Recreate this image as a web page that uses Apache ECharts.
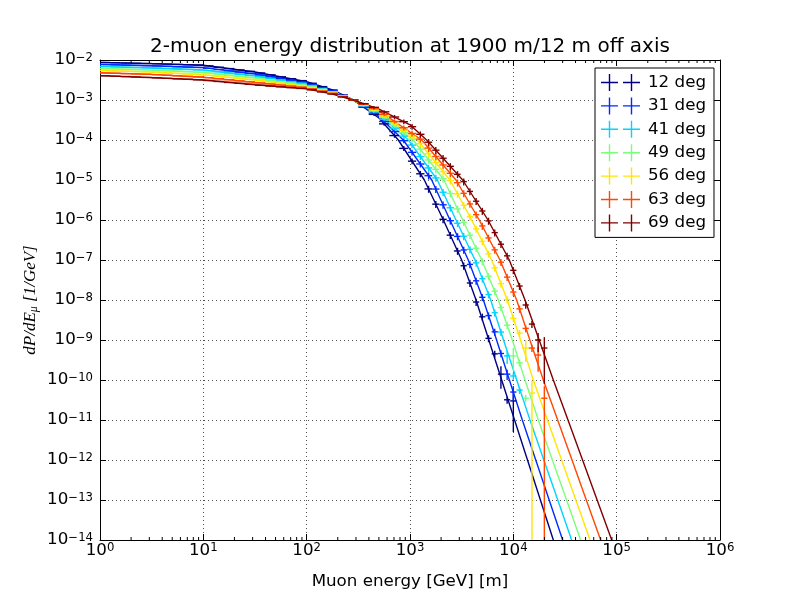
<!DOCTYPE html>
<html><head><meta charset="utf-8">
<script src="https://cdn.jsdelivr.net/npm/echarts@6/dist/echarts.min.js"></script>
<style>html,body{margin:0;padding:0;background:#fff}#c{width:800px;height:600px}</style>
</head><body><div id="c"></div>
<script>
// ---------- data ----------
const seriesNames = ['12 deg', '31 deg', '41 deg', '49 deg', '56 deg', '63 deg', '69 deg'];
const seriesColors = ['#000080', '#002bff', '#00d4ff', '#7bff7b', '#ffe600', '#ff4800', '#800000'];

// bin centres [GeV]
const binE = [1.12, 1.41, 1.78, 2.24, 2.82, 3.55, 4.47, 5.62, 7.08, 8.91, 11.2, 14.1,
  17.8, 22.4, 28.2, 35.5, 44.7, 56.2, 70.8, 89.1, 112, 141, 178, 224,
  282, 355, 447, 562, 708, 871, 1047, 1259, 1514, 1778, 2089, 2455, 2884, 3311, 3802,
  4365, 5012, 5754, 6607, 7586, 8710, 10000, 11482, 13183, 15136, 17378, 19953];

// relative statistical error per bin
const relErr = [0.01, 0.01, 0.01, 0.01, 0.01, 0.01, 0.01, 0.01, 0.01, 0.01, 0.01, 0.01,
  0.01, 0.01, 0.01, 0.01, 0.01, 0.01, 0.01, 0.01, 0.01, 0.01, 0.01, 0.01,
  0.03, 0.05, 0.08, 0.1, 0.12, 0.14, 0.16, 0.18, 0.2, 0.2, 0.2, 0.2, 0.2, 0.2, 0.2,
  0.2, 0.2, 0.2, 0.2, 0.2, 0.2, 0.2, 0.2, 0.2, 0.2, 0.2, 0.2];

// measured dP/dE per bin
const y12 = [8.65e-3, 8.53e-3, 8.41e-3, 8.30e-3, 8.18e-3, 8.05e-3, 7.91e-3, 7.76e-3, 7.62e-3, 7.48e-3, 7.13e-3, 6.59e-3,
  6.10e-3, 5.64e-3, 5.21e-3, 4.74e-3, 4.25e-3, 3.80e-3, 3.40e-3, 3.05e-3, 2.62e-3, 2.16e-3, 1.78e-3, 1.33e-3,
  1.00e-3, 6.61e-4, 4.37e-4, 2.53e-4, 1.29e-4, 6.17e-5, 2.96e-5, 1.43e-5, 5.98e-6, 2.49e-6, 1.04e-6, 4.18e-7, 1.68e-7,
  7.18e-8, 2.66e-8, 8.9e-9, 3.8e-9, 1.1e-9, 4.5e-10, 1.4e-10, 3.2e-11, 3.0e-11, null, null, null, null, null];
const y31 = [7.70e-3, 7.58e-3, 7.46e-3, 7.34e-3, 7.22e-3, 7.09e-3, 6.94e-3, 6.80e-3, 6.66e-3, 6.52e-3, 6.22e-3, 5.78e-3,
  5.37e-3, 4.99e-3, 4.63e-3, 4.25e-3, 3.84e-3, 3.47e-3, 3.13e-3, 2.83e-3, 2.45e-3, 2.04e-3, 1.70e-3, 1.30e-3,
  1.00e-3, 6.85e-4, 4.70e-4, 2.91e-4, 1.63e-4, 9.6e-5, 4.91e-5, 2.51e-5, 1.28e-5, 5.94e-6, 2.40e-6, 9.6e-7, 3.89e-7,
  1.78e-7, 7.76e-8, 3.02e-8, 1.17e-8, 4.07e-9, 1.6e-9, 4.6e-10, 1.4e-10, 5.0e-11, null, null, null, null, null];
const y41 = [6.85e-3, 6.73e-3, 6.61e-3, 6.49e-3, 6.37e-3, 6.24e-3, 6.10e-3, 5.96e-3, 5.82e-3, 5.69e-3, 5.43e-3, 5.07e-3,
  4.73e-3, 4.42e-3, 4.12e-3, 3.80e-3, 3.47e-3, 3.16e-3, 2.88e-3, 2.63e-3, 2.30e-3, 1.93e-3, 1.62e-3, 1.27e-3,
  1.00e-3, 7.11e-4, 5.06e-4, 3.30e-4, 1.98e-4, 1.25e-4, 7.45e-5, 3.86e-5, 2.00e-5, 1.13e-5, 4.94e-6, 2.02e-6, 8.3e-7,
  3.92e-7, 1.85e-7, 8.47e-8, 3.41e-8, 1.37e-8, 4.85e-9, 1.58e-9, 4.0e-10, 1.26e-10, 5.6e-11, null, null, null, null];
const y49 = [6.11e-3, 6.00e-3, 5.89e-3, 5.78e-3, 5.68e-3, 5.55e-3, 5.40e-3, 5.25e-3, 5.11e-3, 4.97e-3, 4.74e-3, 4.45e-3,
  4.17e-3, 3.91e-3, 3.66e-3, 3.40e-3, 3.13e-3, 2.88e-3, 2.65e-3, 2.44e-3, 2.17e-3, 1.85e-3, 1.58e-3, 1.26e-3,
  1.00e-3, 7.31e-4, 5.35e-4, 3.63e-4, 2.30e-4, 1.52e-4, 1.05e-4, 5.90e-5, 3.17e-5, 1.84e-5, 1.07e-5, 4.60e-6, 1.89e-6,
  8.8e-7, 4.17e-7, 1.97e-7, 9.2e-8, 3.90e-8, 1.66e-8, 6.5e-9, 2.34e-9, 4.0e-10, 2.7e-10, 3.5e-11, null, null, null];
const y56 = [5.45e-3, 5.35e-3, 5.25e-3, 5.15e-3, 5.06e-3, 4.93e-3, 4.78e-3, 4.62e-3, 4.48e-3, 4.34e-3, 4.14e-3, 3.90e-3,
  3.67e-3, 3.46e-3, 3.26e-3, 3.05e-3, 2.83e-3, 2.63e-3, 2.44e-3, 2.27e-3, 2.04e-3, 1.78e-3, 1.55e-3, 1.24e-3,
  1.00e-3, 7.52e-4, 5.65e-4, 3.95e-4, 2.58e-4, 1.75e-4, 1.24e-4, 8.1e-5, 4.53e-5, 2.72e-5, 1.63e-5, 9.7e-6, 4.50e-6,
  2.33e-6, 1.20e-6, 5.98e-7, 2.92e-7, 1.43e-7, 6.35e-8, 2.56e-8, 1.03e-8, 3.5e-9, 1.48e-9, 6.3e-10, 4.7e-11, null, null];
const y63 = [4.74e-3, 4.66e-3, 4.57e-3, 4.49e-3, 4.41e-3, 4.30e-3, 4.16e-3, 4.03e-3, 3.90e-3, 3.78e-3, 3.61e-3, 3.40e-3,
  3.20e-3, 3.01e-3, 2.84e-3, 2.67e-3, 2.52e-3, 2.37e-3, 2.23e-3, 2.10e-3, 1.91e-3, 1.68e-3, 1.48e-3, 1.22e-3,
  1.00e-3, 7.80e-4, 6.08e-4, 4.38e-4, 2.91e-4, 2.02e-4, 1.46e-4, 1.05e-4, 6.28e-5, 3.87e-5, 2.38e-5, 1.47e-5, 8.57e-6,
  4.65e-6, 2.52e-6, 1.36e-6, 7.10e-7, 3.56e-7, 1.79e-7, 8.8e-8, 3.73e-8, 1.58e-8, 6.0e-9, 1.95e-9, 6.3e-10, 4.2e-10, 3.5e-11];
const y69 = [4.03e-3, 3.94e-3, 3.85e-3, 3.76e-3, 3.67e-3, 3.58e-3, 3.48e-3, 3.39e-3, 3.30e-3, 3.21e-3, 3.08e-3, 2.91e-3,
  2.75e-3, 2.61e-3, 2.47e-3, 2.34e-3, 2.24e-3, 2.14e-3, 2.04e-3, 1.95e-3, 1.79e-3, 1.59e-3, 1.41e-3, 1.19e-3,
  1.00e-3, 8.09e-4, 6.55e-4, 5.07e-4, 3.76e-4, 2.87e-4, 2.15e-4, 1.39e-4, 8.8e-5, 5.56e-5, 3.50e-5, 2.20e-5, 1.39e-5,
  9.1e-6, 5.18e-6, 2.95e-6, 1.68e-6, 9.5e-7, 4.84e-7, 2.48e-7, 1.27e-7, 5.53e-8, 2.23e-8, 7.5e-9, 2.5e-9, 1.0e-9, 6.3e-10];

// larger vertical error bars in the tail: [bin index, absolute error]
const err12 = [[43, 8e-11], [45, 2.5e-11]];
const err31 = [[44, 4e-11], [45, 2e-11]];
const err41 = [[44, 1.5e-10]];
const err49 = [[45, 2.3e-10]];
const err56 = [[47, 3.5e-10], [48, 4.7e-11]];
const err63 = [[49, 2.6e-10], [50, 3.5e-11]];
const err69 = [[49, 5e-10], [50, 5.5e-10]];

// fitted curves
const fitE12 = [1, 3.16, 10, 31.6, 100, 178, 282, 501, 771, 1377, 2104, 3162, 4355, 5794, 7709, 10280, 13710, 18280, 24380];
const fitY12 = [8.71e-3, 8.13e-3, 7.41e-3, 5.01e-3, 2.88e-3, 1.78e-3, 1.0e-3, 3.55e-4, 1e-4, 1e-5, 1e-6, 1e-7, 1e-8, 1e-9, 1e-10, 1e-11, 1e-12, 1e-13, 1e-14];
const fitE31 = [1, 3.16, 10, 31.6, 100, 178, 282, 501, 861, 1622, 2438, 3664, 5129, 6887, 9162, 12218, 16482, 22233, 30000];
const fitY31 = [7.76e-3, 7.16e-3, 6.46e-3, 4.47e-3, 2.69e-3, 1.70e-3, 1.0e-3, 3.89e-4, 1e-4, 1e-5, 1e-6, 1e-7, 1e-8, 1e-9, 1e-10, 1e-11, 1e-12, 1e-13, 1e-14];
const fitE41 = [1, 3.16, 10, 31.6, 100, 178, 282, 501, 964, 1841, 2786, 4256, 6039, 8035, 10789, 14488, 19733, 26915, 36644];
const fitY41 = [6.92e-3, 6.31e-3, 5.62e-3, 3.98e-3, 2.51e-3, 1.62e-3, 1.0e-3, 4.27e-4, 1e-4, 1e-5, 1e-6, 1e-7, 1e-8, 1e-9, 1e-10, 1e-11, 1e-12, 1e-13, 1e-14];
const fitE49 = [1, 3.16, 10, 31.6, 100, 178, 282, 501, 1076, 2133, 3236, 4943, 7161, 9772, 12972, 17458, 23878, 32734, 44771];
const fitY49 = [6.17e-3, 5.62e-3, 4.90e-3, 3.55e-3, 2.34e-3, 1.58e-3, 1.0e-3, 4.57e-4, 1e-4, 1e-5, 1e-6, 1e-7, 1e-8, 1e-9, 1e-10, 1e-11, 1e-12, 1e-13, 1e-14];
const fitE56 = [1, 3.16, 10, 31.6, 100, 178, 282, 501, 1178, 2438, 3954, 6166, 8750, 11749, 15596, 21380, 29309, 40272, 55208];
const fitY56 = [5.50e-3, 5.01e-3, 4.27e-3, 3.16e-3, 2.19e-3, 1.55e-3, 1.0e-3, 4.90e-4, 1e-4, 1e-5, 1e-6, 1e-7, 1e-8, 1e-9, 1e-10, 1e-11, 1e-12, 1e-13, 1e-14];
const fitE63 = [1, 3.16, 10, 31.6, 100, 178, 282, 501, 1297, 2786, 4677, 7430, 10765, 14454, 19498, 26853, 36983, 50816, 69984];
const fitY63 = [4.79e-3, 4.37e-3, 3.72e-3, 2.75e-3, 2.04e-3, 1.48e-3, 1.0e-3, 5.37e-4, 1e-4, 1e-5, 1e-6, 1e-7, 1e-8, 1e-9, 1e-10, 1e-11, 1e-12, 1e-13, 1e-14];
const fitE69 = [1, 3.16, 10, 31.6, 100, 178, 282, 501, 1000, 1449, 3236, 5689, 9141, 12972, 17783, 24380, 33806, 46774, 64714, 89536];
const fitY69 = [4.07e-3, 3.63e-3, 3.16e-3, 2.40e-3, 1.91e-3, 1.41e-3, 1.0e-3, 5.89e-4, 2.40e-4, 1e-4, 1e-5, 1e-6, 1e-7, 1e-8, 1e-9, 1e-10, 1e-11, 1e-12, 1e-13, 1e-14];

const titleText = '2-muon energy distribution at 1900 m/12 m off axis';
const xName = 'Muon energy [GeV] [m]';

// ---------- build ----------
const ys = [y12, y31, y41, y49, y56, y63, y69];
const errs = [err12, err31, err41, err49, err56, err63, err69];
const fitEs = [fitE12, fitE31, fitE41, fitE49, fitE56, fitE63, fitE69];
const fitYs = [fitY12, fitY31, fitY41, fitY49, fitY56, fitY63, fitY69];
const FONT = 'DejaVu Sans';
const YMIN = 1e-14, YMAX = 1e-2, XMIN = 1, XMAX = 1e6;

// minor tick positions of the log x axis (2..9 x 10^n)
const minorX = [];
for (let n = 0; n < 6; n++) for (let k = 2; k <= 9; k++) minorX.push(k * Math.pow(10, n));

// bin edges (geometric mid-points between neighbouring centres)
function edgeLo(k) { return k > 0 ? Math.sqrt(binE[k] * binE[k - 1]) : binE[0] * binE[0] / Math.sqrt(binE[0] * binE[1]); }
function edgeHi(k) { return k < binE.length - 1 ? Math.sqrt(binE[k] * binE[k + 1]) : binE[k] * binE[k] / Math.sqrt(binE[k] * binE[k - 1]); }

function renderErr(params, api) {
  const x = api.value(0), y = api.value(1), xl = api.value(2), xh = api.value(3), e = api.value(4);
  const p = api.coord([x, y]);
  const a = api.coord([xl, y]), b = api.coord([xh, y]);
  const hi = api.coord([x, y + e]);
  const lo = api.coord([x, (y - e) > YMIN ? (y - e) : YMIN]);
  const c = api.visual('color');
  const st = { stroke: c, lineWidth: 1.4 };
  return { type: 'group', children: [
    { type: 'line', shape: { x1: a[0], y1: p[1], x2: b[0], y2: p[1] }, style: st },
    { type: 'line', shape: { x1: p[0], y1: hi[1], x2: p[0], y2: lo[1] }, style: st }
  ]};
}

function renderMinor(params, api) {
  const cs = params.coordSys;
  const px = api.coord([api.value(0), YMAX])[0];
  const st = { stroke: '#000', lineWidth: 1 };
  return { type: 'group', children: [
    { type: 'line', shape: { x1: px, y1: cs.y + cs.height, x2: px, y2: cs.y + cs.height - 3 }, style: st },
    { type: 'line', shape: { x1: px, y1: cs.y, x2: px, y2: cs.y + 3 }, style: st }
  ]};
}

const series = [{
  type: 'custom', name: '_minor', data: minorX.map(v => [v]), renderItem: renderMinor,
  encode: { x: 0 }, silent: true, animation: false, z: 5
}];
for (let i = 0; i < 7; i++) {
  const fit = fitEs[i].map((E, k) => [E, fitYs[i][k]]);
  series.push({
    type: 'line', name: '_fit' + i, data: fit, symbol: 'none', showSymbol: false,
    smooth: false, clip: true,
    lineStyle: { color: seriesColors[i], width: 1.4 }, itemStyle: { color: seriesColors[i] },
    silent: true, animation: false, z: 2
  });
  const em = {};
  errs[i].forEach(([k, e]) => { em[k] = e; });
  const data = [];
  binE.forEach((E, k) => {
    const v = ys[i][k];
    if (v != null) data.push([E, v, edgeLo(k), edgeHi(k), em[k] != null ? em[k] : v * relErr[k]]);
  });
  series.push({
    type: 'custom', name: seriesNames[i], data, renderItem: renderErr,
    encode: { x: 0, y: 1 }, itemStyle: { color: seriesColors[i] },
    silent: true, animation: false, z: 3, clip: true
  });
}

const supRich = {
  b: { fontFamily: FONT, fontSize: 16.7, lineHeight: 17, verticalAlign: 'bottom', color: '#000' },
  s: { fontFamily: FONT, fontSize: 11.7, lineHeight: 12, verticalAlign: 'top', padding: [0, 0, 10, 0], color: '#000' }
};
function expLabel(v) {
  const n = Math.round(Math.log10(v));
  return '{b|10}{s|' + (n < 0 ? '\u2212' + (-n) : n) + '}';
}

const crossIcon = 'path://M0,7.8h17v1.4h-17z M7.8,0h1.4v17h-1.4z M22,7.8h17v1.4h-17z M29.8,0h1.4v17h-1.4z';

const axisCommon = {
  type: 'log', logBase: 10, interval: 1,
  axisLine: { show: true, lineStyle: { color: '#000', width: 1 } },
  axisTick: { show: true, inside: true, length: 6, interval: 0, lineStyle: { color: '#000', width: 1 } },
  minorTick: { show: false }
};
const gridLine = { show: true, interval: 0, lineStyle: { color: '#000', width: 0.8, type: [1, 3], opacity: 0.85 } };

const option = {
  backgroundColor: '#fff',
  animation: false,
  title: {
    text: titleText, left: 410, top: 37, textAlign: 'center', padding: 0,
    textStyle: { fontFamily: FONT, fontSize: 20, fontWeight: 'normal', color: '#000' }
  },
  grid: { left: 100, right: 80, top: 60, bottom: 60, containLabel: false, outerBoundsMode: 'none' },
  legend: {
    data: seriesNames.map(n => ({ name: n, icon: crossIcon })),
    orient: 'vertical', left: 595, top: 68,
    padding: [6, 8, 6, 6], itemGap: 6.4, itemWidth: 39, itemHeight: 17,
    borderColor: '#000', borderWidth: 1, borderRadius: 0, backgroundColor: '#fff',
    selectedMode: false,
    textStyle: { fontFamily: FONT, fontSize: 16.7, color: '#000', padding: [0, 0, 0, 3] }
  },
  xAxis: [
    Object.assign({}, axisCommon, {
      position: 'bottom', min: XMIN, max: XMAX, splitNumber: 6,
      name: xName, nameLocation: 'middle', nameGap: 33, nameMoveOverlap: false,
      nameTextStyle: { fontFamily: FONT, fontSize: 16.7, color: '#000' },
      axisLabel: { show: true, interval: 0, margin: 2, formatter: expLabel, rich: supRich, hideOverlap: false, showMinLabel: true, showMaxLabel: true },
      splitLine: gridLine
    }),
    Object.assign({}, axisCommon, {
      position: 'top', min: XMIN, max: XMAX, splitNumber: 6,
      axisLabel: { show: false }, splitLine: { show: false }
    })
  ],
  yAxis: [
    Object.assign({}, axisCommon, {
      position: 'left', min: YMIN, max: YMAX, splitNumber: 12,
      name: '{a|dP/dE}{m|\u03bc}{a| [1/GeV]}', nameLocation: 'middle', nameRotate: 90, nameGap: 60, nameMoveOverlap: false,
      nameTextStyle: {
        rich: {
          a: { fontFamily: 'Liberation Serif', fontStyle: 'italic', fontSize: 17, lineHeight: 18, verticalAlign: 'top', color: '#000' },
          m: { fontFamily: 'Liberation Serif', fontStyle: 'italic', fontSize: 12, lineHeight: 12, verticalAlign: 'bottom', padding: [5, 0, 0, 0], color: '#000' }
        }
      },
      axisLabel: { show: true, interval: 0, margin: 7, formatter: expLabel, rich: supRich, hideOverlap: false, showMinLabel: true, showMaxLabel: true },
      splitLine: gridLine
    }),
    Object.assign({}, axisCommon, {
      position: 'right', min: YMIN, max: YMAX, splitNumber: 12,
      axisLabel: { show: false }, splitLine: { show: false }
    })
  ],
  series
};

const chart = echarts.init(document.getElementById('c'), null, { renderer: 'canvas', width: 800, height: 600 });
chart.setOption(option);
</script>
</body></html>
